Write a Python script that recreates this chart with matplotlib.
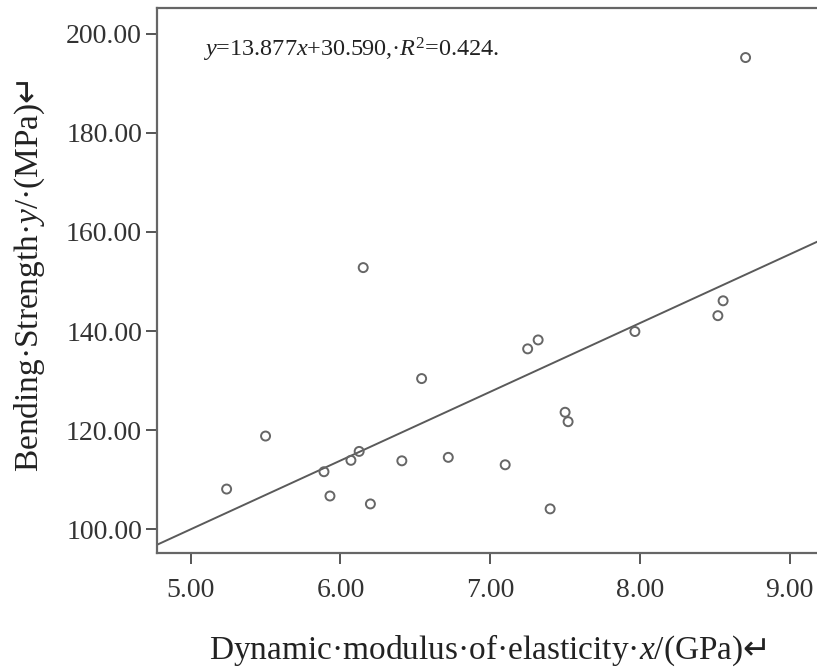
import matplotlib
matplotlib.use("Agg")
import matplotlib.pyplot as plt
import numpy as np

# Data
mod_elasticity = [8.705, 6.152, 7.25, 7.32, 6.542, 5.50, 5.24, 5.89, 5.93, 6.07,
                  6.125, 6.20, 6.41, 6.72, 7.10, 7.40, 7.50, 7.52, 7.966, 8.52, 8.555]
bending_strength = [195.2, 152.8, 136.4, 138.2, 130.4, 118.8, 108.1, 111.6, 106.7, 113.9,
                    115.7, 105.1, 113.8, 114.5, 113.0, 104.1, 123.6, 121.7, 139.9, 143.1, 146.1]
slope = 13.877
intercept = 30.590
r2 = 0.424
xticks = [5.0, 6.0, 7.0, 8.0, 9.0]
yticks = [100.0, 120.0, 140.0, 160.0, 180.0, 200.0]

plt.rcParams['font.family'] = ['Liberation Serif', 'DejaVu Sans']
plt.rcParams['mathtext.fontset'] = 'custom'
plt.rcParams['mathtext.rm'] = 'Liberation Serif'
plt.rcParams['mathtext.it'] = 'Liberation Serif:italic'
plt.rcParams['mathtext.sf'] = 'DejaVu Sans'

fig = plt.figure(figsize=(8.17, 6.71), dpi=100)
ax = fig.add_axes([0.1925, 0.1759, 0.811, 0.8129])

xlim = (4.777, 9.201)
ylim = (95.2, 205.3)
ax.set_xlim(*xlim)
ax.set_ylim(*ylim)

xs = np.array(xlim)
ax.plot(xs, slope * xs + intercept, color='#5a5a5a', lw=1.4, zorder=2)
ax.scatter(mod_elasticity, bending_strength, s=42, facecolors='none',
           edgecolors='#666666', linewidths=1.4, zorder=3)

ax.set_xticks(xticks)
ax.set_yticks(yticks)
ax.set_xticklabels([f"{v:.2f}" for v in xticks])
ax.set_yticklabels([f"{v:.2f}" for v in yticks])
ax.tick_params(axis='both', direction='out', length=8, width=1.4, color='#555555',
               labelsize=20, labelcolor='#333333')
ax.tick_params(axis='x', pad=10)
ax.tick_params(axis='y', pad=3)
ax.tick_params(top=False, right=False)
for s in ax.spines.values():
    s.set_color('#666666')
    s.set_linewidth(1.6)

ax.text(0.069, 0.922, r"$\it{y}$=13.877$\it{x}$+30.590,·$\it{R}^2$=0.424.",
        transform=ax.transAxes, fontsize=17.5, color='#222222', va='center', ha='left')

fig.text(0.597, 0.031, "Dynamic·modulus·of·elasticity·$\\it{x}$/(GPa)$\\mathsf{\u21b5}$",
         fontsize=24, color='#222222', ha='center', va='center')
fig.text(0.036, 0.59, "Bending·Strength·$\\it{y}$/·(MPa)$\\mathsf{\u21b5}$",
         fontsize=24, color='#222222', ha='center', va='center', rotation=90)

fig.savefig("out.png", dpi=100)
